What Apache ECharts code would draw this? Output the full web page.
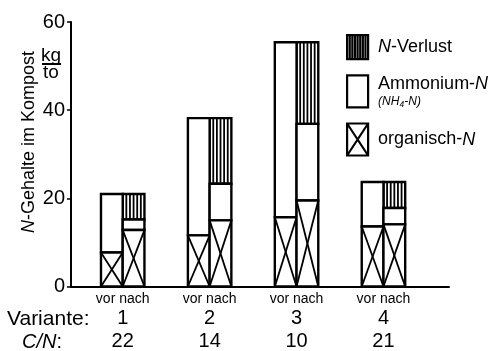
<!DOCTYPE html>
<html>
<head>
<meta charset="utf-8">
<script src="https://cdn.jsdelivr.net/npm/echarts@6/dist/echarts.min.js"></script>
<style>html,body{margin:0;padding:0;background:#fff}#c{width:501px;height:351px}</style>
</head>
<body>
<div id="c"></div>
<script>
// ---- data ----
const variants = ['1', '2', '3', '4'];
const cnRatio = ['22', '14', '10', '21'];
const phaseLabels = ['vor', 'nach'];
const organicVor = [7.7, 11.6, 15.7, 13.6];
const ammoniumVor = [13.3, 26.6, 39.7, 10.1];
const organicNach = [12.8, 15.0, 19.5, 14.1];
const ammoniumNach = [2.4, 8.3, 17.4, 3.7];
const verlustNach = [5.8, 14.9, 18.5, 5.9];
const yTicks = [0, 20, 40, 60];

const FONT = 'Liberation Sans';

// build stacked segment items: [xPos, phase(0 vor /1 nach), base, top]
const orgData = [], ammData = [], verData = [];
variants.forEach((v, i) => {
  const x = i + 1;
  orgData.push([x, 0, 0, organicVor[i]]);
  ammData.push([x, 0, organicVor[i], organicVor[i] + ammoniumVor[i]]);
  orgData.push([x, 1, 0, organicNach[i]]);
  ammData.push([x, 1, organicNach[i], organicNach[i] + ammoniumNach[i]]);
  const b = organicNach[i] + ammoniumNach[i];
  verData.push([x, 1, b, b + verlustNach[i]]);
});

function makeRender(kind) {
  return function (params, api) {
    const x = api.value(0), ph = api.value(1), b = api.value(2), t = api.value(3);
    const p0 = api.coord([x, b]);
    const p1 = api.coord([x, t]);
    const w = api.size([0.25, 0])[0];
    const left = ph === 0 ? p0[0] - w : p0[0];
    const top = p1[1], bottom = p0[1], right = left + w;
    const children = [{
      type: 'rect',
      shape: { x: left, y: top, width: w, height: bottom - top },
      style: { fill: '#fff', stroke: '#000', lineWidth: 2.4 }
    }];
    if (kind === 'org') {
      children.push({ type: 'line', shape: { x1: left, y1: top, x2: right, y2: bottom }, style: { stroke: '#000', lineWidth: 1.8 } });
      children.push({ type: 'line', shape: { x1: right, y1: top, x2: left, y2: bottom }, style: { stroke: '#000', lineWidth: 1.8 } });
    } else if (kind === 'ver') {
      for (let k = 1; k < 6; k++) {
        const xx = left + w * k / 6;
        children.push({ type: 'line', shape: { x1: xx, y1: top, x2: xx, y2: bottom }, style: { stroke: '#000', lineWidth: 1.8 } });
      }
    }
    return { type: 'group', children: children };
  };
}

let verIcon = 'path://M0,0H21V24H0Z';
for (let k = 1; k < 8; k++) { const xx = (21 * k / 8).toFixed(2); verIcon += ' M' + xx + ',0V24'; }
const ammIcon = 'path://M0,0H21V32H0Z';
const orgIcon = 'path://M0,0H21V32H0Z M0,0L21,32 M21,0L0,32';

const chart = echarts.init(document.getElementById('c'));
chart.setOption({
  backgroundColor: '#fff',
  animation: false,
  grid: { left: 71, right: 52, top: 22, bottom: 61 },
  xAxis: {
    type: 'value', min: 0.405, max: 4.754,
    splitLine: { show: false },
    axisTick: { show: false },
    axisLine: { show: true, onZero: false, lineStyle: { color: '#000', width: 2 } },
    axisLabel: {
      customValues: [1, 2, 3, 4],
      margin: 5,
      color: '#000',
      fontFamily: FONT,
      formatter: function (val) {
        const i = Math.round(val) - 1;
        return '{s|' + phaseLabels.join(' ') + '}\n{b|' + variants[i] + '}\n{b|' + cnRatio[i] + '}';
      },
      rich: {
        s: { fontSize: 14, lineHeight: 15, fontFamily: FONT, color: '#000' },
        b: { fontSize: 20, lineHeight: 23, fontFamily: FONT, color: '#000' }
      }
    }
  },
  yAxis: {
    type: 'value', min: 0, max: 60, interval: 20,
    splitLine: { show: false },
    axisLine: { show: true, lineStyle: { color: '#000', width: 2 } },
    axisTick: { show: true, length: 4, lineStyle: { color: '#000', width: 1.5 } },
    axisLabel: {
      color: '#000', fontSize: 20, fontFamily: FONT, margin: 6,
      formatter: function (v) { return yTicks.indexOf(v) >= 0 ? String(v) : ''; }
    }
  },
  legend: {
    orient: 'vertical', left: 341, top: 29,
    itemWidth: 21, itemHeight: 32, itemGap: 14,
    selectedMode: false,
    textStyle: {
      color: '#000', fontFamily: FONT, fontSize: 18, padding: [0, 0, 0, 5],
      rich: {
        i: { fontStyle: 'italic', fontSize: 18, fontFamily: FONT, color: '#000', lineHeight: 20 },
        r: { fontSize: 18, fontFamily: FONT, color: '#000', lineHeight: 20 },
        s: { fontStyle: 'italic', fontSize: 12, fontFamily: FONT, color: '#000', lineHeight: 15 }
      }
    },
    formatter: function (name) {
      if (name === 'N-Verlust') return '{i|N}{r|-Verlust}';
      if (name === 'Ammonium-N') return '{r|Ammonium-}{i|N}\n{s|(NH₄-N)}';
      return '{r|organisch-}{i|N}';
    },
    data: [
      { name: 'N-Verlust', icon: verIcon, itemStyle: { color: '#fff', borderColor: '#000', borderWidth: 2.2 } },
      { name: 'Ammonium-N', icon: ammIcon, itemStyle: { color: '#fff', borderColor: '#000', borderWidth: 2.2 } },
      { name: 'organisch-N', icon: orgIcon, itemStyle: { color: '#fff', borderColor: '#000', borderWidth: 2.2 } }
    ]
  },
  graphic: [
    {
      type: 'text', x: 29, y: 142, rotation: Math.PI / 2,
      style: {
        text: '{i|N}{r|-Gehalte im Kompost}',
        align: 'center', verticalAlign: 'middle',
        rich: {
          i: { fontStyle: 'italic', fontSize: 18, fontFamily: FONT, fill: '#000' },
          r: { fontSize: 18, fontFamily: FONT, fill: '#000' }
        }
      }
    },
    { type: 'text', x: 51, y: 56, style: { text: 'kg', align: 'center', verticalAlign: 'middle', fontSize: 19, fontFamily: FONT, fill: '#000' } },
    { type: 'line', shape: { x1: 42, y1: 64, x2: 61, y2: 64 }, style: { stroke: '#000', lineWidth: 2 } },
    { type: 'text', x: 51, y: 73, style: { text: 'to', align: 'center', verticalAlign: 'middle', fontSize: 19, fontFamily: FONT, fill: '#000' } },
    { type: 'text', x: 7, y: 319, style: { text: 'Variante:', verticalAlign: 'middle', fontSize: 21, fontFamily: FONT, fill: '#000' } },
    {
      type: 'text', x: 22, y: 342,
      style: {
        text: '{i|C/N}{r|:}', verticalAlign: 'middle',
        rich: {
          i: { fontStyle: 'italic', fontSize: 20, fontFamily: FONT, fill: '#000' },
          r: { fontSize: 20, fontFamily: FONT, fill: '#000' }
        }
      }
    }
  ],
  series: [
    { name: 'N-Verlust', type: 'custom', renderItem: makeRender('ver'), data: verData, encode: { x: 0, y: [2, 3] }, itemStyle: { color: '#fff', borderColor: '#000' } },
    { name: 'Ammonium-N', type: 'custom', renderItem: makeRender('amm'), data: ammData, encode: { x: 0, y: [2, 3] }, itemStyle: { color: '#fff', borderColor: '#000' } },
    { name: 'organisch-N', type: 'custom', renderItem: makeRender('org'), data: orgData, encode: { x: 0, y: [2, 3] }, itemStyle: { color: '#fff', borderColor: '#000' } }
  ]
});
</script>
</body>
</html>
